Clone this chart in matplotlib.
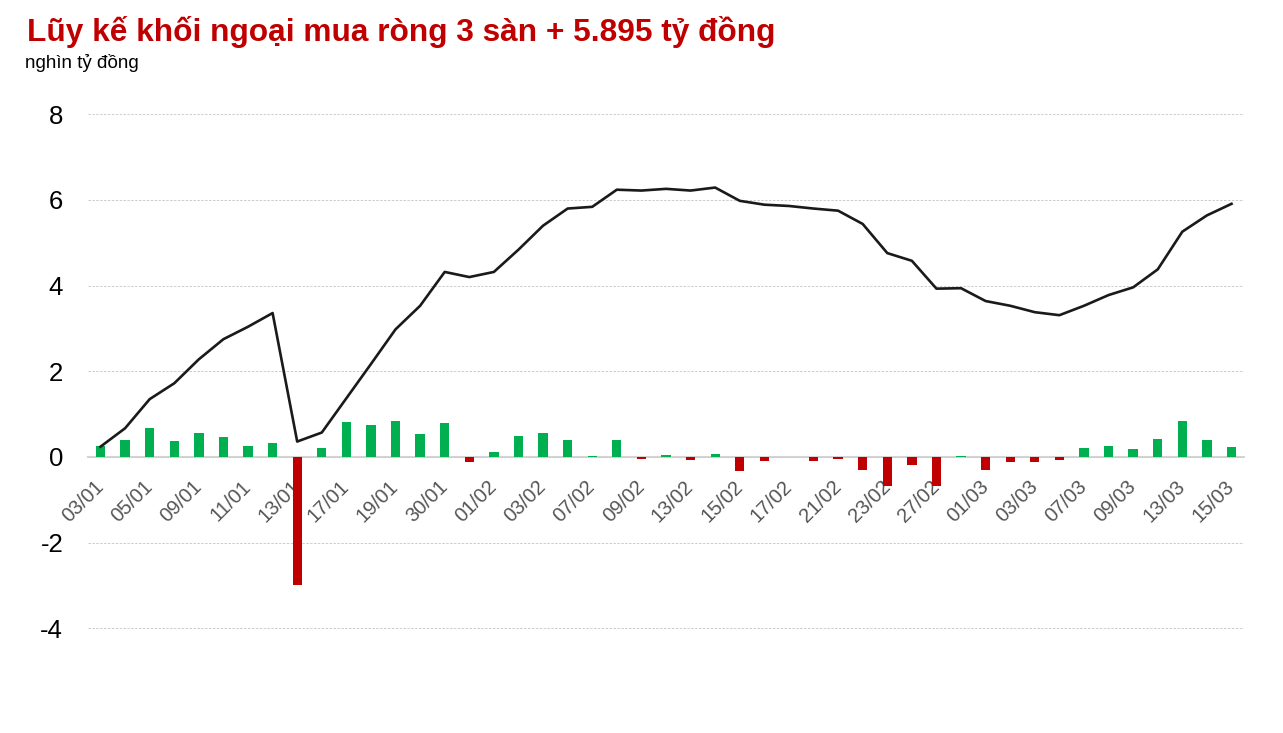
import matplotlib
matplotlib.use("Agg")
import matplotlib.pyplot as plt
import numpy as np

plt.rcParams['font.family'] = ['Liberation Sans', 'DejaVu Sans']
plt.rcParams['axes.unicode_minus'] = False

# ngày giao dịch
dates = ["03/01", "04/01", "05/01", "06/01", "09/01", "10/01", "11/01", "12/01",
         "13/01", "16/01", "17/01", "18/01", "19/01", "27/01", "30/01", "31/01",
         "01/02", "02/02", "03/02", "06/02", "07/02", "08/02", "09/02", "10/02",
         "13/02", "14/02", "15/02", "16/02", "17/02", "20/02", "21/02", "22/02",
         "23/02", "24/02", "27/02", "28/02", "01/03", "02/03", "03/03", "06/03",
         "07/03", "08/03", "09/03", "10/03", "13/03", "14/03", "15/03"]

# mua ròng trong ngày (nghìn tỷ đồng)
daily = [0.26, 0.40, 0.68, 0.37, 0.56, 0.47, 0.26, 0.33,
         -3.00, 0.21, 0.82, 0.75, 0.84, 0.54, 0.79, -0.12,
         0.12, 0.49, 0.56, 0.40, 0.03, 0.40, -0.05, 0.05,
         -0.07, 0.08, -0.33, -0.10, 0.00, -0.09, -0.05, -0.30,
         -0.68, -0.19, -0.68, 0.03, -0.30, -0.12, -0.12, -0.07,
         0.21, 0.26, 0.19, 0.42, 0.84, 0.40, 0.23]

# lũy kế
cumulative = [0.24, 0.67, 1.35, 1.72, 2.28, 2.75, 3.04, 3.36,
              0.36, 0.57, 1.37, 2.17, 2.98, 3.53, 4.32, 4.20,
              4.32, 4.84, 5.40, 5.80, 5.84, 6.24, 6.22, 6.26,
              6.22, 6.29, 5.98, 5.89, 5.86, 5.80, 5.75, 5.44,
              4.76, 4.58, 3.93, 3.94, 3.64, 3.53, 3.38, 3.31,
              3.53, 3.78, 3.96, 4.38, 5.26, 5.64, 5.91]

x = np.arange(len(dates))
colors = ["#00b050" if v >= 0 else "#c00000" for v in daily]

fig = plt.figure(figsize=(12.83, 7.33), dpi=100)
ax = fig.add_axes([88.2 / 1283, 1 - 649.7 / 733, (1243.8 - 88.2) / 1283, (649.7 - 92.9) / 733])

ax.bar(x, daily, width=0.38, color=colors, zorder=2)
ax.plot(x, cumulative, color="#1a1a1a", lw=1.9, zorder=3)

ax.set_xlim(-0.5, len(dates) - 0.5)
ax.set_ylim(-4.5, 8.5)
ax.set_yticks([-4, -2, 0, 2, 4, 6, 8])
ax.grid(axis="y", color="#cccccc", lw=0.7, ls=(0, (2.5, 1.5)), zorder=0)

for s in ["top", "right", "left"]:
    ax.spines[s].set_visible(False)
ax.spines["bottom"].set_position(("data", 0))
ax.spines["bottom"].set_color("#d4d4d4")
ax.spines["bottom"].set_linewidth(1.5)
ax.spines["bottom"].set_zorder(1)

ax.set_xticks(x[::2])
ax.set_xticklabels(dates[::2], rotation=45, ha="right", va="center",
                   rotation_mode="anchor", fontsize=14.5, color="#555555")
ax.tick_params(axis="x", length=0, pad=19)
ax.tick_params(axis="y", length=0, pad=18, labelsize=18.5, labelcolor="black")

fig.text(27 / 1283, 1 - 41 / 733, "Lũy kế khối ngoại mua ròng 3 sàn + 5.895 tỷ đồng",
         color="#c00000", fontsize=22.8, fontweight="bold", va="baseline", ha="left")
fig.text(25 / 1283, 1 - 68 / 733, "nghìn tỷ đồng", color="black", fontsize=13.5,
         va="baseline", ha="left")

fig.savefig("out.png", dpi=100)
